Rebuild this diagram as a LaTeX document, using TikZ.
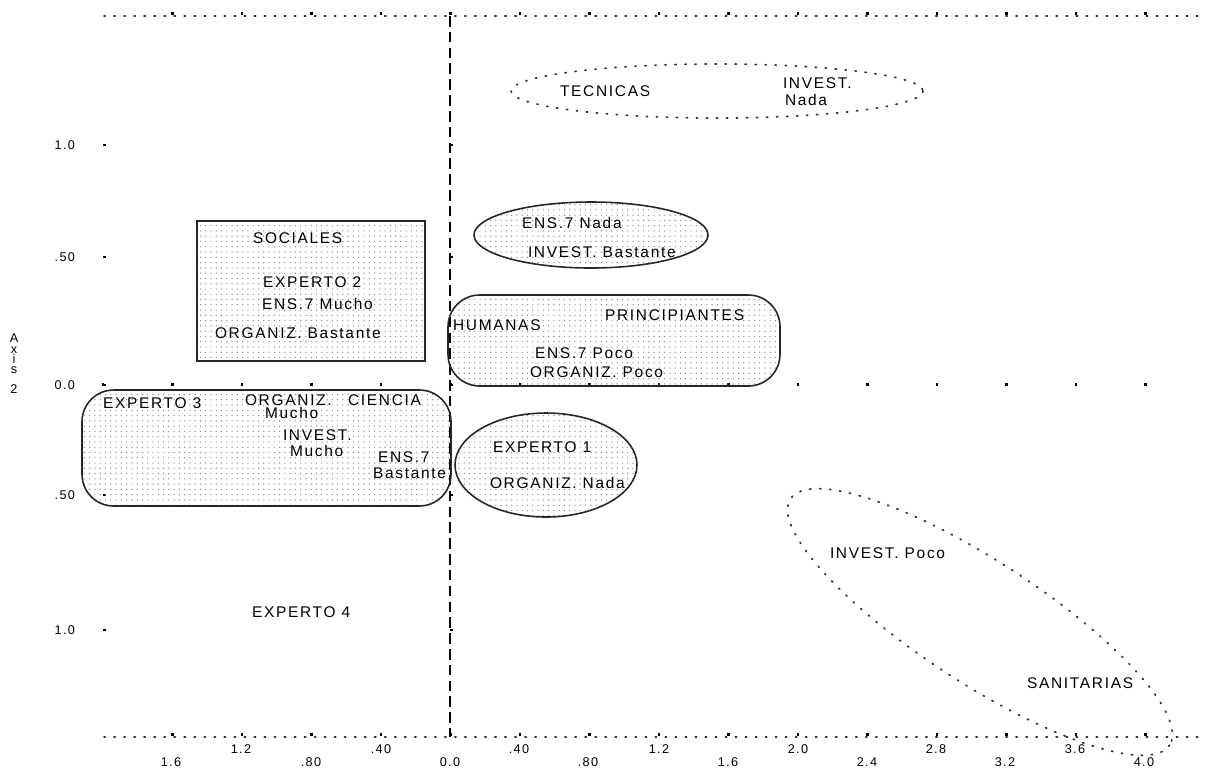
\documentclass[tikz,border=0pt]{standalone}
\usepackage{fontspec}
\setmainfont{Liberation Sans}[LetterSpace=11]
\usetikzlibrary{patterns.meta}
\begin{document}
\begin{tikzpicture}
	[x=0.01cm,y=-0.01cm,
	every node/.style={inner sep=0,outer sep=0,anchor=west,font=\fontsize{4.4}{5}\selectfont},
	cluster/.style={draw=black!85,line width=.45pt,pattern={Dots[radius=.2pt,distance=1.5pt]},pattern color=black!45},
	halo/.style={draw=black!80,line width=.5pt,dash pattern=on .35pt off 2.5pt,line cap=round},
	zeroline/.style={line width=.45pt,dash pattern=on 3pt off 1.5pt},
	axisnum/.style={anchor=center,font=\fontsize{3.6}{4}\selectfont},
	tickmark/.style={line width=.6pt}]
	\def\xo{103}\def\dx{69.5}
	\useasboundingbox (0,0) rectangle (1206,769);
	% frame and zero lines
	\draw[halo] (104,16) -- (1206,16) ;
	\draw[halo] (104,737) -- (1206,737) ;
	\draw[zeroline] (450,16) -- (450,737) ;
	\foreach \k in {1,...,15} {
		\draw[tickmark] ({\xo+\k*\dx},15) -- ++(0,-3) ;
		\draw[tickmark] ({\xo+\k*\dx},736) -- ++(0,-3) ; }
	\foreach \k in {0,...,15}
		\draw[tickmark] ({\xo+\k*\dx},383) -- ++(0,3) ;
	\foreach \yy in {145,257,385,495,630} {
		\draw[tickmark] (103,\yy) -- ++(3,0) ;
		\draw[tickmark] (450,\yy) -- ++(3,0) ; }
	% axis numbers
	\node[axisnum] (xa1) at (241,749) {1.2} ;
	\node[axisnum] (xa2) at (381,749) {.40} ;
	\node[axisnum] (xa3) at (519,749) {.40} ;
	\node[axisnum] (xa4) at (659,749) {1.2} ;
	\node[axisnum] (xa5) at (798,749) {2.0} ;
	\node[axisnum] (xa6) at (936,749) {2.8} ;
	\node[axisnum] (xa7) at (1075,749) {3.6} ;
	\node[axisnum] (xb1) at (171,762) {1.6} ;
	\node[axisnum] (xb2) at (311,762) {.80} ;
	\node[axisnum] (xb3) at (450,762) {0.0} ;
	\node[axisnum] (xb4) at (588,762) {.80} ;
	\node[axisnum] (xb5) at (728,762) {1.6} ;
	\node[axisnum] (xb6) at (867,762) {2.4} ;
	\node[axisnum] (xb7) at (1005,762) {3.2} ;
	\node[axisnum] (xb8) at (1144,762) {4.0} ;
	\node[axisnum,anchor=east] (ya1) at (75,145) {1.0} ;
	\node[axisnum,anchor=east] (ya2) at (75,257) {.50} ;
	\node[axisnum,anchor=east] (ya3) at (75,385) {0.0} ;
	\node[axisnum,anchor=east] (ya4) at (75,495) {.50} ;
	\node[axisnum,anchor=east] (ya5) at (75,630) {1.0} ;
	\node[anchor=center,align=center,font=\fontsize{3.6}{2.9}\selectfont] (axis2) at (14,364) {A\\x\\i\\s\\[2.9pt]2} ;
	% groups
	\draw[cluster] (197,221) rectangle (425,361) ;
	\draw[cluster,rounded corners=9pt] (448,295) rectangle (780,386) ;
	\draw[cluster,rounded corners=9pt] (82,390) rectangle (451,506) ;
	\draw[cluster] (591,235) ellipse [x radius=117,y radius=33] ;
	\draw[cluster] (546,465) ellipse [x radius=91,y radius=52] ;
	\draw[halo] (717,91) ellipse [x radius=206,y radius=27] ;
	\draw[halo,rotate around={-33:(980,622)}] (980,622) ellipse [x radius=226,y radius=61] ;
	% labels
	\node (soc)     at (253,238) {SOCIALES} ;
	\node (exp2)    at (263,282) {EXPERTO 2} ;
	\node (ensmu)   at (262,304) {ENS.7 Mucho} ;
	\node (orgba)   at (215,333) {ORGANIZ. Bastante} ;
	\node (ensna)   at (522,223) {ENS.7 Nada} ;
	\node (invba)   at (528,252) {INVEST. Bastante} ;
	\node (hum)     at (453,325) {HUMANAS} ;
	\node (prin)    at (605,315) {PRINCIPIANTES} ;
	\node (enspo)   at (535,353) {ENS.7 Poco} ;
	\node (orgpo)   at (530,372) {ORGANIZ. Poco} ;
	\node (tec)     at (560,91)  {TECNICAS} ;
	\node (invna)   at (783,83)  {INVEST.} ;
	\node (invnb)   at (785,100) {Nada} ;
	\node (exp3)    at (103,403) {EXPERTO 3} ;
	\node (orgmu)   at (245,400) {ORGANIZ.} ;
	\node (cien)    at (348,400) {CIENCIA} ;
	\node (orgmub)  at (265,413) {Mucho} ;
	\node (invmu)   at (283,435) {INVEST.} ;
	\node (invmub)  at (290,451) {Mucho} ;
	\node (ensba)   at (378,457) {ENS.7} ;
	\node (ensbab)  at (373,473) {Bastante} ;
	\node (exp1)    at (493,447) {EXPERTO 1} ;
	\node (orgna)   at (490,483) {ORGANIZ. Nada} ;
	\node (exp4)    at (252,612) {EXPERTO 4} ;
	\node (invpo)   at (830,553) {INVEST. Poco} ;
	\node (sani)    at (1027,683) {SANITARIAS} ;
\end{tikzpicture}
\end{document}
